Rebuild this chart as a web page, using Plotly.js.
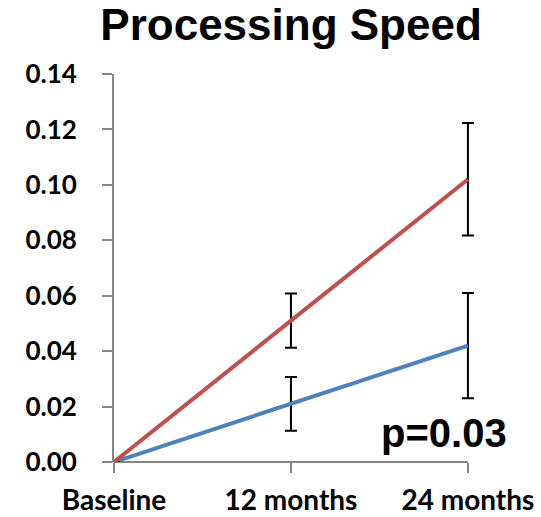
<!DOCTYPE html>
<html>
<head>
<meta charset="utf-8">
<script src="https://cdn.plot.ly/plotly-3.0.1.min.js"></script>
<style>html,body{margin:0;padding:0;background:#fff;}#chart{width:541px;height:517px;}</style>
</head>
<body>
<div id="chart"></div>
<script>
var categories = ["Baseline", "12 months", "24 months"];
var xPositions = [0, 1, 2];
var blueValues = [0, 0.021, 0.042];
var blueErrors = [0, 0.0097, 0.019];
var redValues = [0, 0.051, 0.102];
var redErrors = [0, 0.0098, 0.0203];
var yTicks = [0, 0.02, 0.04, 0.06, 0.08, 0.10, 0.12, 0.14];
var pText = "p=0.03";
var titleText = "Processing Speed";

var labelFamily = "Lato, 'Noto Sans', sans-serif";
var axisGray = "#868686";

var traces = [
  {
    x: xPositions, y: blueValues, type: "scatter", mode: "lines", cliponaxis: false,
    line: {color: "#4F81BD", width: 4},
    error_y: {type: "data", array: blueErrors, visible: true, color: "#000", thickness: 2, width: 6},
    hoverinfo: "skip", showlegend: false
  },
  {
    x: xPositions, y: redValues, type: "scatter", mode: "lines", cliponaxis: false,
    line: {color: "#C0504D", width: 4},
    error_y: {type: "data", array: redErrors, visible: true, color: "#000", thickness: 2, width: 6},
    hoverinfo: "skip", showlegend: false
  }
];

// x range padded a little past the last category so error-bar caps are not clipped;
// the right margin is reduced so the last category still sits at the same pixel.
var xPad = 0.04;
var layout = {
  width: 541, height: 517,
  margin: {l: 114, r: 66, t: 74, b: 55},
  paper_bgcolor: "#fff", plot_bgcolor: "#fff",
  title: {
    text: "<b>" + titleText + "</b>",
    font: {family: "'Liberation Sans', Arial, sans-serif", size: 44, color: "#000"},
    x: 0.538, xanchor: "center", yref: "container", y: 0.982, yanchor: "top"
  },
  xaxis: {
    range: [xPositions[0], xPositions[xPositions.length - 1] + xPad],
    tickvals: xPositions, ticktext: categories,
    showgrid: false, zeroline: false, showline: false,
    ticks: "outside", ticklen: 10, tickwidth: 2, tickcolor: axisGray,
    tickfont: {family: labelFamily, size: 28, color: "#000", weight: "bold"},
    ticklabelstandoff: 3
  },
  yaxis: {
    range: [0, 0.14], tickvals: yTicks, tickformat: ".2f",
    showgrid: false, zeroline: false, showline: true, linecolor: axisGray, linewidth: 2,
    ticks: "outside", ticklen: 10, tickwidth: 2, tickcolor: axisGray,
    tickfont: {family: labelFamily, size: 26, color: "#000", weight: "bold"},
    ticklabelstandoff: 20
  },
  shapes: [{
    type: "line", xref: "x", yref: "paper",
    x0: xPositions[0], x1: xPositions[xPositions.length - 1], y0: 0, y1: 0,
    line: {color: axisGray, width: 2}, layer: "below"
  }],
  annotations: [{
    x: 1.865, y: 0.0103, xref: "x", yref: "y", text: "<b>" + pText + "</b>", showarrow: false,
    font: {family: "'Liberation Sans', Arial, sans-serif", size: 40, color: "#000"},
    xanchor: "center", yanchor: "middle"
  }]
};

Plotly.newPlot("chart", traces, layout, {staticPlot: true, displayModeBar: false});
</script>
</body>
</html>
